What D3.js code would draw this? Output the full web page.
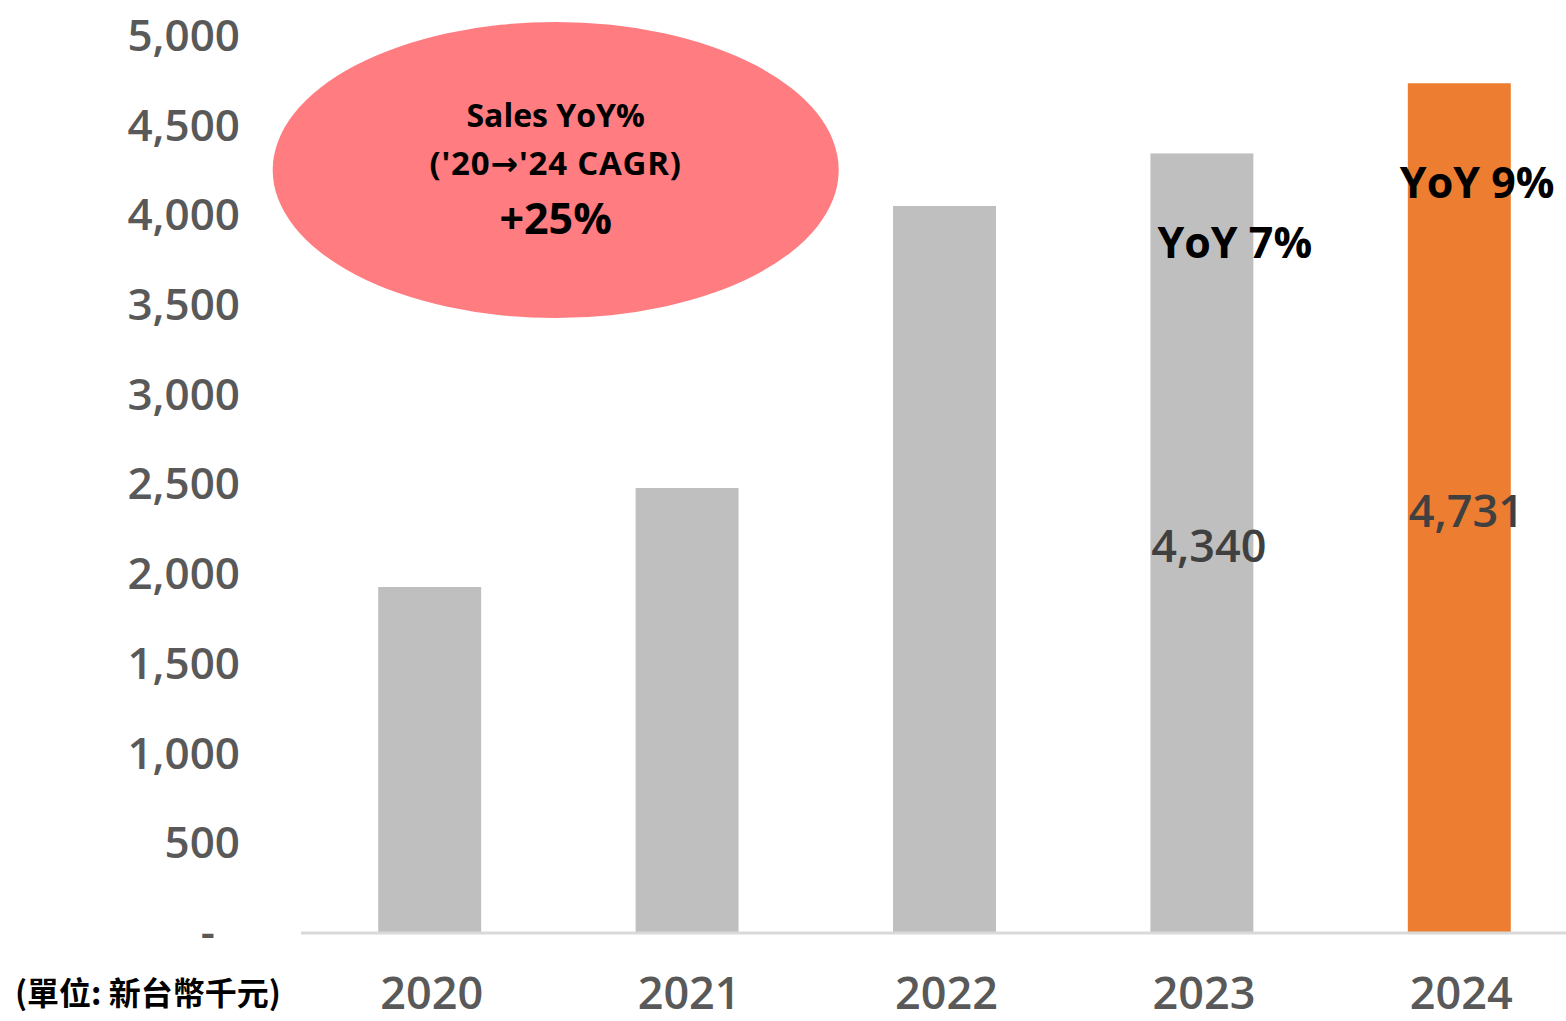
<!DOCTYPE html>
<html><head><meta charset="utf-8">
<script src="https://cdn.jsdelivr.net/npm/d3@7"></script>
<style>body{margin:0;background:#fff}svg{display:block}</style>
</head><body>
<svg id="c" width="1566" height="1021"></svg>
<script>
const years = ["2020","2021","2022","2023","2024"];
const sales = [1923, 2475, 4047, 4340, 4731];
const barColors = ["#bfbfbf","#bfbfbf","#bfbfbf","#bfbfbf","#ed7d31"];
const yTicks = [0,500,1000,1500,2000,2500,3000,3500,4000,4500,5000];
const valueLabels = [null, null, null, "4,340", "4,731"];
const yoyLabels = [null, null, null, "YoY 7%", "YoY 9%"];
const bubbleLines = ["Sales YoY%", "('20\u2192'24 CAGR)", "+25%"];
const unitLabel = "(單位: 新台幣千元)";

const svg = d3.select("#c");
const x = d3.scaleBand().domain(years).range([301, 1588]).paddingInner(0.6).paddingOuter(0.3);
const y = d3.scaleLinear().domain([0, 5000]).range([932, 35]);

// bars
svg.selectAll("rect.bar").data(years).join("rect")
  .attr("x", d => x(d)).attr("width", x.bandwidth())
  .attr("y", (d,i) => y(sales[i])).attr("height", (d,i) => y(0) - y(sales[i]))
  .attr("fill", (d,i) => barColors[i]);

// baseline
svg.append("line").attr("x1", 301).attr("x2", 1566).attr("y1", y(0)+1).attr("y2", y(0)+1)
  .attr("stroke", "#d9d9d9").attr("stroke-width", 3);

// y axis
const yAxis = d3.axisLeft(y).tickValues(yTicks).tickSize(0).tickPadding(0)
  .tickFormat(d => d === 0 ? "-" : d3.format(",")(d));
const ya = svg.append("g").attr("transform", "translate(240,0)").call(yAxis);
ya.select(".domain").remove();
ya.selectAll("text").attr("font-family", "Open Sans").attr("font-size", 44).attr("font-weight", 600)
  .attr("fill", "#595959").attr("dy", "0.35em");
ya.selectAll(".tick").filter(d => d === 0).select("text").attr("dx", -25);

// x axis
const xAxis = d3.axisBottom(x).tickSize(0).tickPadding(0);
const xa = svg.append("g").attr("transform", "translate(0,1009)").call(xAxis);
xa.select(".domain").remove();
xa.selectAll("text").attr("font-family", "Open Sans").attr("font-size", 45).attr("font-weight", 600)
  .attr("fill", "#595959").attr("dy", 0).attr("y", 0).attr("dx", 2);

// value labels
const valueY = [null, null, null, 562, 527];
svg.selectAll("text.val").data(years).join("text")
  .filter((d,i) => valueLabels[i])
  .attr("x", d => x(d) + x.bandwidth()/2 + 7)
  .attr("y", d => valueY[years.indexOf(d)])
  .attr("text-anchor", "middle").attr("font-family", "Open Sans").attr("font-size", 45).attr("font-weight", 600)
  .attr("fill", "#404040").text(d => valueLabels[years.indexOf(d)]);

// YoY labels
const yoyPos = [null, null, null, [7, 258], [-8, 198]];
years.forEach((d,i) => {
  if (!yoyLabels[i]) return;
  svg.append("text").attr("x", x(d) + yoyPos[i][0]).attr("y", yoyPos[i][1])
    .attr("font-family", "Open Sans").attr("font-size", 43).attr("font-weight", 700)
    .attr("fill", "#000").text(yoyLabels[i]);
});

// bubble
const bx = x("2020") + x.bandwidth()/2 + 126, by = 170;
svg.append("ellipse").attr("cx", bx).attr("cy", by).attr("rx", 283).attr("ry", 148).attr("fill", "#ff7c80");
const bSizes = [32, 33, 43], bYs = [127, 175, 234];
bubbleLines.forEach((t,i) => {
  const tx = svg.append("text").attr("x", bx).attr("y", bYs[i]).attr("text-anchor", "middle")
    .attr("font-family", "Open Sans").attr("font-size", bSizes[i]).attr("font-weight", 700)
    .attr("fill", "#000");
  if (t.includes("\u2192")) {
    const parts = t.split("\u2192");
    tx.attr("letter-spacing", 0.8);
    tx.append("tspan").text(parts[0]);
    tx.append("tspan").attr("font-family", "DejaVu Sans").attr("font-weight", 700).text("\u2192");
    tx.append("tspan").text(parts[1]);
  } else tx.text(t);
});

// unit label
svg.append("text").attr("x", 15).attr("y", 1005)
  .attr("font-family", "Noto Sans CJK TC").attr("font-size", 32).attr("font-weight", 700)
  .attr("fill", "#000").text(unitLabel);
</script>
</body></html>
